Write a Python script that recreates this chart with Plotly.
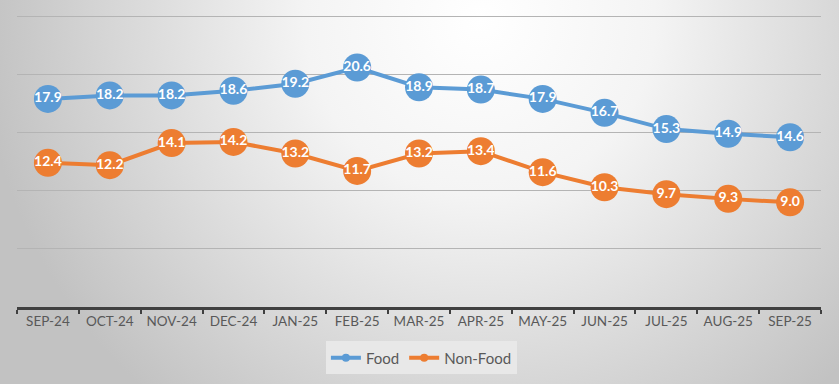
import base64
import plotly.graph_objects as go

months = ["SEP-24", "OCT-24", "NOV-24", "DEC-24", "JAN-25", "FEB-25", "MAR-25",
          "APR-25", "MAY-25", "JUN-25", "JUL-25", "AUG-25", "SEP-25"]
food = [17.9, 18.2, 18.2, 18.6, 19.2, 20.6, 18.9, 18.7, 17.9, 16.7, 15.3, 14.9, 14.6]
non_food = [12.4, 12.2, 14.1, 14.2, 13.2, 11.7, 13.2, 13.4, 11.6, 10.3, 9.7, 9.3, 9.0]

BLUE = "#5b9bd5"
ORANGE = "#ed7d31"

W, H = 839, 384
ML, MR, MT, MB = 17, 18, 14, 77
PW, PH = W - ML - MR, H - MT - MB

svg = f'''<svg xmlns="http://www.w3.org/2000/svg" width="{W}" height="{H}">
<defs><radialGradient id="g" gradientUnits="userSpaceOnUse" cx="480" cy="20" r="500">
<stop offset="0" stop-color="#ffffff"/><stop offset="0.35" stop-color="#f4f4f4"/>
<stop offset="1" stop-color="#c2c2c2"/></radialGradient></defs>
<rect x="0" y="0" width="{W}" height="{H}" fill="url(#g)"/></svg>'''
src = "data:image/svg+xml;base64," + base64.b64encode(svg.encode()).decode()

fig = go.Figure()
for name, vals, col in [("Food", food, BLUE), ("Non-Food", non_food, ORANGE)]:
    fig.add_trace(go.Scatter(
        x=months, y=vals, name=name, mode="lines+markers+text",
        line=dict(color=col, width=4),
        marker=dict(size=28, color=col),
        text=[f"{v:.1f}" for v in vals], textposition="middle center",
        textfont=dict(family="Lato", size=14, color="white", weight="bold"),
        showlegend=False, cliponaxis=False, hoverinfo="skip"))
for name, col in [("Food", BLUE), ("Non-Food", ORANGE)]:
    fig.add_trace(go.Scatter(
        x=[None], y=[None], name=name, mode="lines+markers",
        line=dict(color=col, width=4), marker=dict(size=8, color=col)))

fig.update_layout(
    width=W, height=H,
    margin=dict(l=ML, r=MR, t=MT, b=MB, autoexpand=False),
    paper_bgcolor="rgba(0,0,0,0)", plot_bgcolor="rgba(0,0,0,0)",
    images=[dict(source=src, xref="paper", yref="paper",
                 x=-ML / PW, y=1 + MT / PH, sizex=W / PW, sizey=H / PH,
                 xanchor="left", yanchor="top", sizing="stretch", layer="below")],
    xaxis=dict(type="category", range=[-0.5, 12.5], showline=True,
               linecolor="#404040", linewidth=3, ticks="outside",
               tickson="boundaries", ticklen=4, tickwidth=2, tickcolor="#404040",
               showgrid=False, automargin=False, tickangle=0,
               tickfont=dict(family="Lato", size=13.5, color="#595959")),
    yaxis=dict(range=[0, 25.2], dtick=5, showticklabels=False, showgrid=True,
               gridcolor="#b4b4b4", gridwidth=1, zeroline=False, showline=False,
               automargin=False),
    legend=dict(orientation="h", x=0.503, xanchor="center", y=-0.174, yanchor="middle",
                bgcolor="#e8e8e8", font=dict(family="Lato", size=15, color="#595959"),
                itemwidth=30),
    showlegend=True,
)

fig.write_html("out.html", config={"displayModeBar": False},
               post_script="document.body.style.margin='0';")
